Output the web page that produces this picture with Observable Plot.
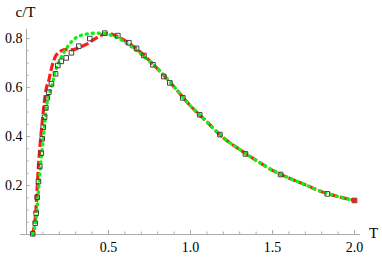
<!DOCTYPE html>
<html>
<head>
<meta charset="utf-8">
<script src="https://cdn.jsdelivr.net/npm/d3@7"></script>
<script src="https://cdn.jsdelivr.net/npm/@observablehq/plot@0.6"></script>
<style>
  html, body { margin: 0; padding: 0; background: #fff; }
  svg { overflow: visible; }
</style>
</head>
<body>
<div id="chart"></div>
<script>
// Data points (open squares)
const squareT = [0.038,0.053,0.059,0.065,0.073,0.081,0.090,0.096,0.102,0.110,0.118,0.126,0.136,0.152,0.177,0.191,0.212,0.242,0.274,0.319,0.386,0.477,0.557,0.624,0.671,0.716,0.771,0.837,0.874,0.953,1.056,1.179,1.335,1.549,1.834,2.0];
const squareC = [0.003,0.046,0.087,0.152,0.216,0.278,0.332,0.391,0.438,0.479,0.517,0.558,0.581,0.615,0.656,0.690,0.707,0.721,0.742,0.769,0.800,0.822,0.812,0.783,0.760,0.731,0.693,0.645,0.619,0.558,0.489,0.408,0.329,0.245,0.166,0.139];

// Red dashed curve
const redT = [0.036,0.046,0.055,0.064,0.073,0.085,0.098,0.110,0.122,0.136,0.149,0.166,0.182,0.197,0.227,0.268,0.299,0.329,0.370,0.410,0.451,0.482,0.518,0.555,0.600,0.650,0.700,0.800,0.900,1.000,1.100,1.200,1.300,1.400,1.500,1.600,1.700,1.800,1.900,2.000];
const redC = [0.000,0.030,0.078,0.180,0.280,0.384,0.473,0.547,0.600,0.629,0.669,0.710,0.733,0.744,0.754,0.754,0.757,0.765,0.778,0.796,0.812,0.820,0.818,0.808,0.792,0.768,0.741,0.676,0.603,0.525,0.460,0.395,0.347,0.303,0.262,0.231,0.203,0.175,0.155,0.139];

// Green dotted curve
const greenT = [0.040,0.050,0.061,0.073,0.088,0.104,0.116,0.131,0.157,0.177,0.207,0.238,0.268,0.299,0.329,0.378,0.433,0.482,0.530,0.573,0.614,0.695,0.800,0.900,1.000,1.100,1.200,1.300,1.400,1.500,1.600,1.700,1.800,1.900,2.000];
const greenC = [0.000,0.030,0.078,0.180,0.302,0.404,0.486,0.555,0.615,0.669,0.717,0.754,0.782,0.802,0.812,0.820,0.822,0.820,0.810,0.796,0.779,0.738,0.676,0.603,0.525,0.460,0.395,0.347,0.303,0.262,0.231,0.203,0.175,0.155,0.139];

// Ticks
const xMajor = [0.5, 1.0, 1.5, 2.0];
const xMajorLabels = ["0.5", "1.0", "1.5", "2.0"];
const xMinor = d3.range(1, 21).map(i => i / 10).filter(v => Math.abs(v * 2 - Math.round(v * 2)) > 1e-6);
const yMajor = [0.2, 0.4, 0.6, 0.8];
const yMajorLabels = ["0.2", "0.4", "0.6", "0.8"];
const yMinor = d3.range(1, 17).map(i => i * 0.05).filter(v => Math.abs(v * 5 - Math.round(v * 5)) > 1e-6);

const squares = squareT.map((t, i) => ({t, c: squareC[i]}));
const red = redT.map((t, i) => ({t, c: redC[i]}));
const green = greenT.map((t, i) => ({t, c: greenC[i]}));

const W = 382, H = 258;
const mL = 20, mR = 22, mT = 29, mB = 23;
const xDom = [-0.0366, 2.0366];
const yDom = [-0.004, 0.837];
const pxX = (W - mL - mR) / (xDom[1] - xDom[0]);
const pxY = (H - mT - mB) / (yDom[1] - yDom[0]);
const serif = "'Liberation Serif', 'DejaVu Serif', serif";
const axisColor = "#aaaaaa";

const plot = Plot.plot({
  width: W,
  height: H,
  marginLeft: mL, marginRight: mR, marginTop: mT, marginBottom: mB,
  x: {domain: xDom, axis: null},
  y: {domain: yDom, axis: null},
  style: {background: "white", fontFamily: serif},
  marks: [
    Plot.ruleY([0], {x1: xDom[0], x2: xDom[1], stroke: axisColor, strokeWidth: 1}),
    Plot.ruleX([0], {y1: yDom[0], y2: yDom[1], stroke: axisColor, strokeWidth: 1}),
    Plot.ruleX(xMajor, {x: d => d, y1: 0, y2: 4 / pxY, stroke: axisColor}),
    Plot.ruleX(xMinor, {x: d => d, y1: 0, y2: 2.5 / pxY, stroke: axisColor}),
    Plot.ruleY(yMajor, {y: d => d, x1: 0, x2: 4 / pxX, stroke: axisColor}),
    Plot.ruleY(yMinor, {y: d => d, x1: 0, x2: 2.5 / pxX, stroke: axisColor}),
    Plot.text(xMajor, {x: d => d, y: 0, text: (d, i) => xMajorLabels[i], dy: 13, lineAnchor: "middle", fontSize: 14, fontFamily: serif, fill: "#000"}),
    Plot.text(yMajor, {x: 0, y: d => d, text: (d, i) => yMajorLabels[i], dx: -4, textAnchor: "end", lineAnchor: "middle", fontSize: 14, fontFamily: serif, fill: "#000"}),
    Plot.text(["c/T"], {frameAnchor: "top-left", dx: 5, dy: -17, textAnchor: "middle", lineAnchor: "middle", fontSize: 15, fontFamily: serif, fill: "#000"}),
    Plot.text(["T"], {frameAnchor: "bottom-right", dx: 13, dy: -2, textAnchor: "middle", lineAnchor: "middle", fontSize: 15, fontFamily: serif, fill: "#000"}),
    Plot.line(red, {x: "t", y: "c", stroke: "#ff1a1a", strokeWidth: 3.2, strokeDasharray: "8,3", strokeLinecap: "butt", curve: "catmull-rom"}),
    Plot.line(green, {x: "t", y: "c", stroke: "#11f011", strokeWidth: 3.4, strokeDasharray: "1,5", strokeLinecap: "round", curve: "catmull-rom"}),
    Plot.dot(squares, {x: "t", y: "c", symbol: "square", r: 2.6, stroke: "#444", strokeWidth: 1, fill: "none"}),
    Plot.dot(squares.slice(-1), {x: "t", y: "c", symbol: "square", r: 2.2, fill: "#ff1a1a", stroke: "#ff1a1a", strokeWidth: 0.5})
  ]
});
document.getElementById("chart").appendChild(plot);
</script>
</body>
</html>
